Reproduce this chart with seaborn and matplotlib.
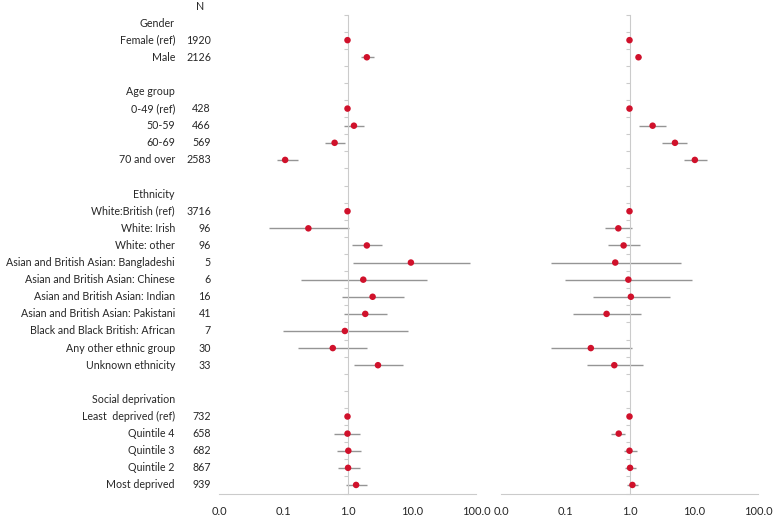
import numpy as np
import pandas as pd
import matplotlib
matplotlib.use('Agg')
import matplotlib.pyplot as plt
import matplotlib.transforms as mtransforms
import seaborn as sns

# row labels (top to bottom); '' = blank spacer row
labels = ['Gender', 'Female (ref)', 'Male', '',
          'Age group', '0-49 (ref)', '50-59', '60-69', '70 and over', '',
          'Ethnicity', 'White:British (ref)', 'White: Irish', 'White: other',
          'Asian and British Asian: Bangladeshi', 'Asian and British Asian: Chinese',
          'Asian and British Asian: Indian', 'Asian and British Asian: Pakistani',
          'Black and Black British: African', 'Any other ethnic group',
          'Unknown ethnicity', '',
          'Social deprivation', 'Least  deprived (ref)', 'Quintile 4', 'Quintile 3',
          'Quintile 2', 'Most deprived']

n_vals = ['', '1920', '2126', '',
          '', '428', '466', '569', '2583', '',
          '', '3716', '96', '96', '5', '6', '16', '41', '7', '30', '33', '',
          '', '732', '658', '682', '867', '939']

# left panel estimates
or_left = [np.nan, 1.0, 2.0, np.nan,
           np.nan, 1.0, 1.26, 0.63, 0.107, np.nan,
           np.nan, 1.0, 0.246, 2.0, 9.7, 1.76, 2.46, 1.89, 0.91, 0.59, 2.98, np.nan,
           np.nan, 1.0, 1.0, 1.03, 1.02, 1.36]
lo_left = [np.nan, np.nan, 1.6, np.nan,
           np.nan, np.nan, 0.87, 0.45, 0.08, np.nan,
           np.nan, np.nan, 0.059, 1.17, 1.23, 0.19, 0.83, 0.875, 0.10, 0.17, 1.25, np.nan,
           np.nan, np.nan, 0.62, 0.68, 0.70, 0.94]
hi_left = [np.nan, np.nan, 2.6, np.nan,
           np.nan, np.nan, 1.8, 0.92, 0.17, np.nan,
           np.nan, np.nan, 1.07, 3.4, 82.0, 17.3, 7.5, 4.1, 8.6, 2.03, 7.2, np.nan,
           np.nan, np.nan, 1.58, 1.64, 1.56, 2.0]

# right panel estimates
or_right = [np.nan, 1.0, 1.38, np.nan,
            np.nan, 1.0, 2.29, 5.1, 10.4, np.nan,
            np.nan, 1.0, 0.67, 0.81, 0.60, 0.96, 1.05, 0.44, np.nan, 0.25, 0.58, np.nan,
            np.nan, 1.0, 0.68, 1.0, 1.02, 1.11]
lo_right = [np.nan, np.nan, 1.25, np.nan,
            np.nan, np.nan, 1.43, 3.24, 6.97, np.nan,
            np.nan, np.nan, 0.42, 0.46, 0.06, 0.10, 0.27, 0.13, np.nan, 0.06, 0.22, np.nan,
            np.nan, np.nan, 0.52, 0.83, 0.85, 0.91]
hi_right = [np.nan, np.nan, 1.5, np.nan,
            np.nan, np.nan, 3.7, 7.95, 15.8, np.nan,
            np.nan, np.nan, 1.1, 1.47, 6.3, 9.5, 4.2, 1.52, np.nan, 1.11, 1.65, np.nan,
            np.nan, np.nan, 0.85, 1.3, 1.25, 1.36]

xticks = [0.01, 0.1, 1, 10, 100]
xticklabels = ['0.0', '0.1', '1.0', '10.0', '100.0']

row = np.arange(1, len(labels) + 1)
df = pd.DataFrame({'row': row, 'label': labels, 'n': n_vals,
                   'or_l': or_left, 'lo_l': lo_left, 'hi_l': hi_left,
                   'or_r': or_right, 'lo_r': lo_right, 'hi_r': hi_right})

sns.set_style('white')
plt.rcParams['font.family'] = ['Lato', 'DejaVu Sans']

fig = plt.figure(figsize=(7.76, 5.2), dpi=100)
W, H = 776, 520
ax_l = fig.add_axes([219 / W, (520 - 493.5) / H, 257 / W, 479 / H])
ax_r = fig.add_axes([501 / W, (520 - 493.5) / H, 257 / W, 479 / H])

red = '#D0112B'
gray = '#959595'
axis_col = '#CBCBCB'
txt = '#262626'
fs = 7.7

for ax, c in [(ax_l, 'l'), (ax_r, 'r')]:
    d = df.dropna(subset=['lo_' + c])
    ax.hlines(d['row'], d['lo_' + c], d['hi_' + c], color=gray, lw=1.0, zorder=2)
    sns.scatterplot(data=df, x='or_' + c, y='row', ax=ax, color=red, s=22,
                    edgecolor='none', zorder=3, legend=False)
    ax.set_xscale('log')
    ax.set_xlim(0.01, 100)
    ax.set_ylim(len(labels) + 0.5, 0.5)
    ax.set_xlabel('')
    ax.set_ylabel('')
    ax.set_xticks(xticks)
    ax.set_xticklabels(xticklabels, fontsize=8, color=txt)
    ax.minorticks_off()
    ax.tick_params(axis='x', direction='in', length=3, color=axis_col, pad=9)
    # y axis as vertical line crossing at 1.0
    ax.spines['left'].set_position(('data', 1))
    ax.spines['left'].set_color(axis_col)
    ax.spines['bottom'].set_color(axis_col)
    ax.spines['top'].set_visible(False)
    ax.spines['right'].set_visible(False)
    ax.set_yticks(np.arange(0.5, len(labels) + 1, 1))
    ax.set_yticklabels([])
    ax.tick_params(axis='y', direction='out', length=3, color=axis_col, left=True)
    ax.set_facecolor('none')

# row labels and N column
tr = mtransforms.blended_transform_factory(fig.transFigure, ax_l.transData)
for r, lab, n in zip(df['row'], df['label'], df['n']):
    if lab:
        ax_l.text(175 / W, r, lab, transform=tr, ha='right', va='center',
                  fontsize=fs, color=txt)
    if n:
        ax_l.text(211 / W, r, n, transform=tr, ha='right', va='center',
                  fontsize=fs, color=txt)
fig.text(200 / W, 1 - 6 / H, 'N', ha='center', va='center', fontsize=fs, color=txt)

fig.savefig('out.png', dpi=100)
